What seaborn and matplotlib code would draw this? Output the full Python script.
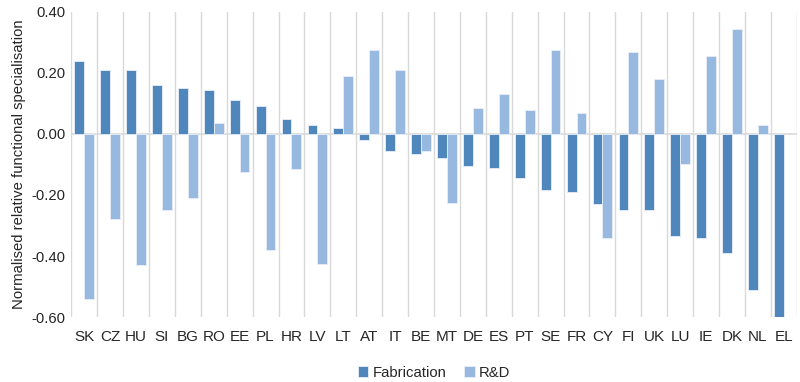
import pandas as pd
import numpy as np
import matplotlib
matplotlib.use("Agg")
import matplotlib.pyplot as plt
import seaborn as sns

countries = ["SK", "CZ", "HU", "SI", "BG", "RO", "EE", "PL", "HR", "LV", "LT", "AT", "IT", "BE",
             "MT", "DE", "ES", "PT", "SE", "FR", "CY", "FI", "UK", "LU", "IE", "DK", "NL", "EL"]
fabrication = [0.24, 0.21, 0.21, 0.16, 0.15, 0.145, 0.11, 0.09, 0.05, 0.03, 0.02, -0.02, -0.055, -0.065,
               -0.08, -0.105, -0.11, -0.145, -0.185, -0.19, -0.23, -0.25, -0.25, -0.335, -0.34, -0.39, -0.51, -0.62]
rnd = [-0.54, -0.28, -0.43, -0.25, -0.21, 0.035, -0.125, -0.38, -0.115, -0.425, 0.19, 0.275, 0.21, -0.055,
       -0.225, 0.085, 0.13, 0.08, 0.275, 0.07, -0.34, 0.27, 0.18, -0.10, 0.255, 0.345, 0.03, np.nan]

df = pd.DataFrame({"Country": countries * 2,
                   "Value": fabrication + rnd,
                   "Function": ["Fabrication"] * len(countries) + ["R&D"] * len(countries)})

sns.set_style("white")
plt.rcParams["font.family"] = ["Liberation Sans", "DejaVu Sans"]

fig, ax = plt.subplots(figsize=(8, 3.82), dpi=100)
fig.subplots_adjust(left=0.089, right=0.996, top=0.969, bottom=0.17)

sns.barplot(data=df, x="Country", y="Value", hue="Function", ax=ax,
            palette={"Fabrication": "#4F87BD", "R&D": "#97B9E0"}, saturation=1,
            width=0.76, edgecolor="#E8EEF7", linewidth=0.6, zorder=3)

ax.set_ylim(-0.6, 0.4)
ax.set_xlim(-0.5, len(countries) - 0.5)
ax.set_yticks(np.arange(-0.6, 0.41, 0.2))
ax.set_yticklabels([f"{v:.2f}" for v in np.arange(-0.6, 0.41, 0.2)], fontsize=10.7)
ax.tick_params(axis="x", labelsize=11, length=0, pad=9)
ax.tick_params(axis="y", length=0, pad=4)
for b in np.arange(-0.5, len(countries), 1):
    ax.axvline(b, color="#D9D9D9", lw=1, zorder=1)
ax.axhline(0, color="#D9D9D9", lw=1.2, zorder=2)
for s in ax.spines.values():
    s.set_visible(False)

ax.set_xlabel("")
ax.set_ylabel("Normalised relative functional specialisation", fontsize=10.7)

ax.legend(loc="upper center", bbox_to_anchor=(0.5, -0.115), ncol=2, frameon=False,
          fontsize=10.7, handlelength=0.7, handleheight=0.7, handletextpad=0.3, columnspacing=1.2)

plt.savefig("out.png", dpi=100)
